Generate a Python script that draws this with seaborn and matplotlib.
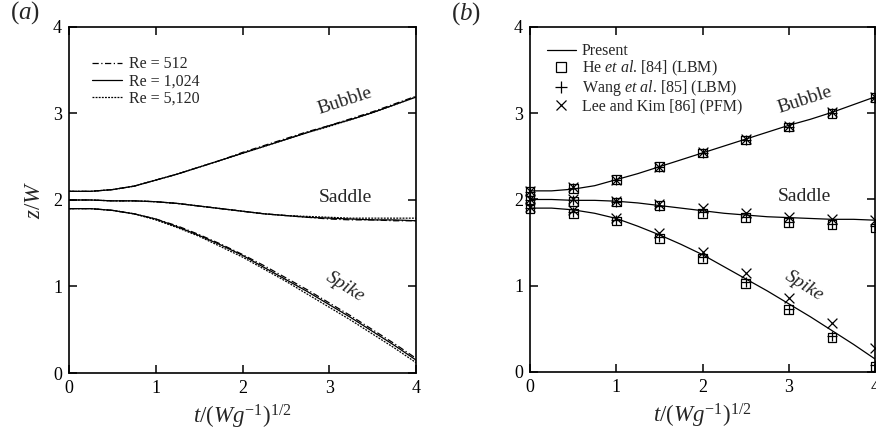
import numpy as np
import pandas as pd
import matplotlib
matplotlib.use('Agg')
import matplotlib.pyplot as plt
import seaborn as sns
from matplotlib.lines import Line2D

# ---- data ----
t_curve = [0, 0.25, 0.5, 0.75, 1, 1.25, 1.5, 1.75, 2, 2.25, 2.5, 2.75, 3, 3.25, 3.5, 3.75, 4]

# Re = 1,024 (also "Present" in panel b)
bubble_1024 = [2.10, 2.10, 2.12, 2.16, 2.23, 2.30, 2.38, 2.46, 2.54, 2.62, 2.70, 2.78, 2.86, 2.93, 3.01, 3.10, 3.19]
saddle_1024 = [2.00, 2.00, 1.99, 1.99, 1.98, 1.96, 1.93, 1.90, 1.87, 1.84, 1.82, 1.80, 1.79, 1.78, 1.77, 1.77, 1.76]
spike_1024 = [1.90, 1.90, 1.88, 1.84, 1.78, 1.69, 1.59, 1.48, 1.36, 1.22, 1.08, 0.94, 0.79, 0.64, 0.48, 0.32, 0.15]

# Re = 512
bubble_512 = [2.10, 2.10, 2.12, 2.16, 2.23, 2.30, 2.38, 2.46, 2.55, 2.63, 2.71, 2.79, 2.86, 2.94, 3.02, 3.11, 3.20]
saddle_512 = [2.00, 2.00, 1.99, 1.99, 1.98, 1.96, 1.93, 1.90, 1.87, 1.84, 1.82, 1.80, 1.78, 1.77, 1.77, 1.76, 1.76]
spike_512 = [1.90, 1.90, 1.88, 1.84, 1.78, 1.70, 1.60, 1.49, 1.37, 1.24, 1.10, 0.96, 0.81, 0.66, 0.50, 0.34, 0.17]

# Re = 5,120
bubble_5120 = [2.10, 2.10, 2.12, 2.16, 2.23, 2.30, 2.38, 2.46, 2.54, 2.62, 2.70, 2.78, 2.85, 2.93, 3.01, 3.10, 3.19]
saddle_5120 = [2.00, 2.00, 1.99, 1.99, 1.98, 1.96, 1.93, 1.90, 1.87, 1.84, 1.82, 1.81, 1.80, 1.79, 1.79, 1.79, 1.79]
spike_5120 = [1.90, 1.90, 1.88, 1.84, 1.77, 1.68, 1.58, 1.46, 1.34, 1.20, 1.06, 0.91, 0.76, 0.61, 0.45, 0.29, 0.12]

# comparison data (panel b)
t_ref = [0, 0.5, 1, 1.5, 2, 2.5, 3, 3.5, 4]
he_bubble = [2.09, 2.13, 2.23, 2.38, 2.54, 2.69, 2.84, 3.00, 3.18]
he_saddle = [1.99, 1.98, 1.97, 1.93, 1.84, 1.79, 1.73, 1.71, 1.67]
he_spike = [1.90, 1.84, 1.75, 1.55, 1.32, 1.03, 0.72, 0.40, 0.06]
wang_bubble = [2.09, 2.13, 2.23, 2.38, 2.54, 2.69, 2.84, 3.00, 3.18]
wang_saddle = [1.99, 1.99, 1.97, 1.93, 1.85, 1.80, 1.74, 1.72, 1.69]
wang_spike = [1.90, 1.86, 1.76, 1.56, 1.33, 1.04, 0.73, 0.42, 0.08]
lee_bubble = [2.10, 2.14, 2.23, 2.38, 2.55, 2.70, 2.85, 3.01, 3.19]
lee_saddle = [2.00, 2.01, 1.98, 1.95, 1.90, 1.84, 1.80, 1.77, 1.76]
lee_spike = [1.91, 1.88, 1.78, 1.61, 1.39, 1.15, 0.86, 0.57, 0.28]

re_labels = ['Re = 512', 'Re = 1,024', 'Re = 5,120']
ref_labels = ['He $\\mathit{et\\ al}$. [84] (LBM)', 'Wang $\\mathit{et\\ al}$. [85] (LBM)',
              'Lee and Kim [86] (PFM)']
ticks = [0, 1, 2, 3, 4]

# ---- style ----
sns.set_style('ticks')
plt.rcParams['font.family'] = ['Liberation Serif', 'DejaVu Serif']
plt.rcParams['mathtext.fontset'] = 'custom'
plt.rcParams['mathtext.rm'] = 'Liberation Serif'
plt.rcParams['mathtext.it'] = 'Liberation Serif:italic'
plt.rcParams['mathtext.bf'] = 'Liberation Serif:bold'
plt.rcParams['axes.linewidth'] = 1.2

fig = plt.figure(figsize=(8.76, 4.38), dpi=100)
ax1 = fig.add_axes([0.0788, 0.1484, 0.3961, 0.79])
ax2 = fig.add_axes([0.605, 0.1507, 0.394, 0.7877])


def style_axes(ax):
    ax.set_xlim(0, 4)
    ax.set_ylim(0, 4)
    ax.set_xticks(ticks)
    ax.set_yticks(ticks)
    ax.tick_params(direction='in', length=6, width=1.1, top=True, right=True,
                   labelsize=13, colors='black', pad=5)
    for s in ax.spines.values():
        s.set_color('black')
        s.set_linewidth(1.2)
    ax.set_xlabel('$t/(Wg^{-1})^{1/2}$', fontsize=16.5, labelpad=4)


# ---- panel (a) ----
re_series = [
    (re_labels[0], [bubble_512, saddle_512, spike_512], (0, (5, 2, 1, 2))),
    (re_labels[1], [bubble_1024, saddle_1024, spike_1024], '-'),
    (re_labels[2], [bubble_5120, saddle_5120, spike_5120], (0, (1.5, 1))),
]
for label, curves, ls in re_series:
    for z in curves:
        df = pd.DataFrame({'t': t_curve, 'z': z})
        sns.lineplot(data=df, x='t', y='z', ax=ax1, color='black', lw=0.9,
                     linestyle=ls, legend=False)

style_axes(ax1)
ax1.set_ylabel('$z/W$', fontsize=16.5, labelpad=6)
h1 = [Line2D([], [], color='black', lw=0.9, linestyle=ls) for _, _, ls in re_series]
ax1.legend(h1, re_labels, loc='upper left', bbox_to_anchor=(0.066, 0.915), frameon=False,
           fontsize=11.5, handlelength=1.9, handletextpad=0.4, labelspacing=0.08,
           borderpad=0, borderaxespad=0)

# ---- panel (b) ----
for z in [bubble_1024, saddle_1024, spike_1024]:
    df = pd.DataFrame({'t': t_curve, 'z': z})
    sns.lineplot(data=df, x='t', y='z', ax=ax2, color='black', lw=0.9, legend=False)

ref_sets = [
    ([he_bubble, he_saddle, he_spike], 's', 40),
    ([wang_bubble, wang_saddle, wang_spike], '+', 55),
    ([lee_bubble, lee_saddle, lee_spike], 'x', 50),
]
for curves, mk, size in ref_sets:
    df = pd.DataFrame({'t': t_ref * 3, 'z': curves[0] + curves[1] + curves[2]})
    if mk == 's':
        sns.scatterplot(data=df, x='t', y='z', ax=ax2, marker='s', s=size,
                        facecolor='none', edgecolor='black', linewidth=0.9, clip_on=False, legend=False)
    else:
        sns.scatterplot(data=df, x='t', y='z', ax=ax2, marker=mk, s=size,
                        color='black', linewidth=0.9, clip_on=False, legend=False)

style_axes(ax2)
ax2.set_ylabel('')
h2 = [Line2D([], [], color='black', lw=0.9),
      Line2D([], [], ls='none', marker='s', ms=7, mfc='none', mec='black', mew=0.9),
      Line2D([], [], ls='none', marker='+', ms=8.5, color='black', mew=0.9),
      Line2D([], [], ls='none', marker='x', ms=7.5, color='black', mew=0.9)]
ax2.legend(h2, ['Present'] + ref_labels, loc='upper left', bbox_to_anchor=(0.049, 0.953),
           frameon=False, fontsize=11.5, handlelength=1.8, handletextpad=0.4,
           labelspacing=0.0, borderpad=0, borderaxespad=0)

# ---- curve annotations ----
for ax in (ax1, ax2):
    ax.text(3.18, 3.15, 'Bubble', fontsize=14, rotation=18, ha='center', va='center')
    ax.text(3.18, 2.03, 'Saddle', fontsize=14, ha='center', va='center')
    ax.text(3.18, 1.0, 'Spike', fontsize=14, rotation=-32, ha='center', va='center',
            style='italic')

fig.text(25 / 876, 1 - 13 / 438, '$(a)$', fontsize=18, ha='center', va='center')
fig.text(466 / 876, 1 - 14 / 438, '$(b)$', fontsize=18, ha='center', va='center')

fig.savefig('out.png', dpi=100)
